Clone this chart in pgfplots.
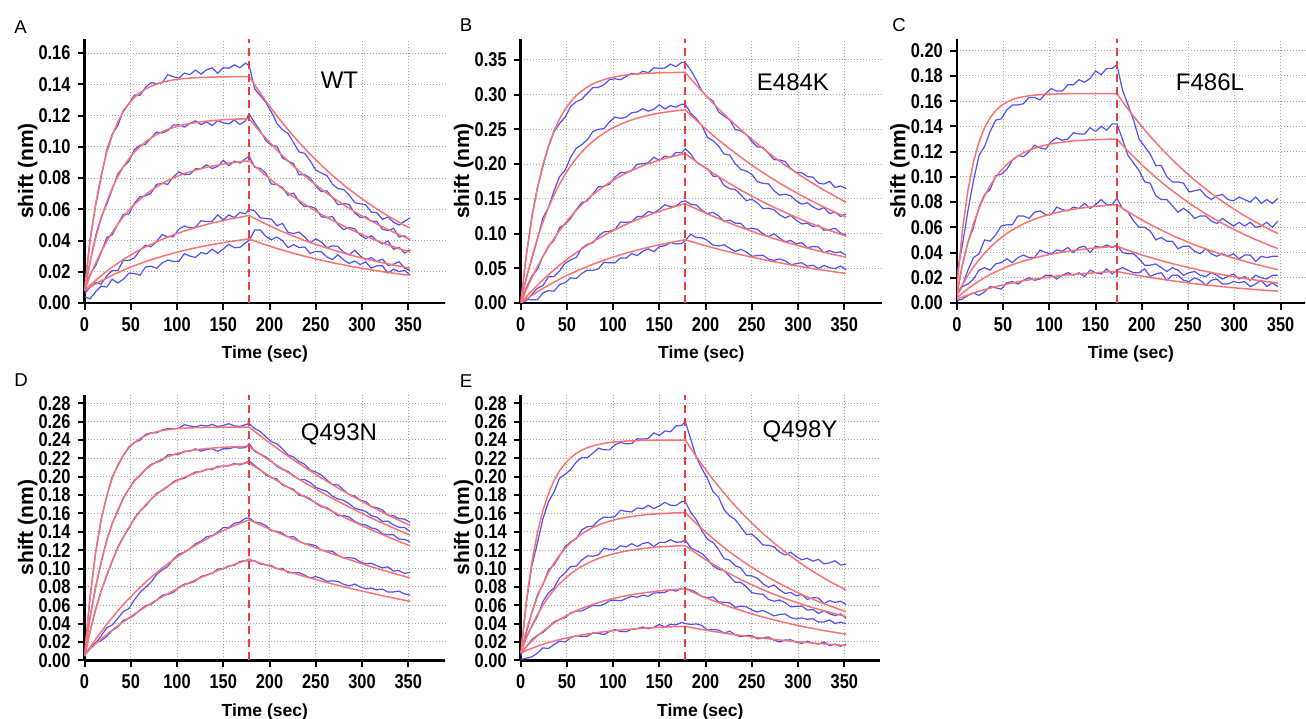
\documentclass[border=0pt]{standalone}
\usepackage{fontspec}
\setmainfont{Liberation Sans}
\newfontfamily\tickfont[FakeStretch=0.82]{Liberation Sans}
\usepackage{pgfplots}
\usepackage{pgfplotstable}
\pgfplotsset{compat=1.18}

\definecolor{bliblue}{RGB}{80,80,250}
\definecolor{blired}{RGB}{250,115,115}
\definecolor{bliline}{RGB}{240,60,60}
\definecolor{bligrid}{RGB}{165,165,165}

% columns: time, five fitted curves (r), five measured traces (b)
\pgfplotstableread{
t r1 r2 r3 r4 r5 b1 b2 b3 b4 b5
0 .0080 .0080 .0080 .0080 .0080 .009 .007 .010 .006 .004
6 .0392 .0262 .0173 .0114 .0102 .0408 .0262 .0181 .0100 .0026
12 .0632 .0414 .0255 .0145 .0122 .0624 .0430 .0239 .0131 .0072
18 .0818 .0541 .0329 .0175 .0142 .0802 .0549 .0321 .0121 .0108
24 .0962 .0647 .0394 .0203 .0160 .0978 .0631 .0418 .0173 .0102
30 .1073 .0736 .0453 .0230 .0178 .1081 .0728 .0437 .0208 .0152
36 .1159 .0810 .0505 .0254 .0194 .1135 .0826 .0505 .0208 .0128
42 .1225 .0872 .0552 .0278 .0210 .1233 .0872 .0568 .0272 .0152
48 .1276 .0923 .0594 .0300 .0225 .1276 .0907 .0570 .0272 .0191
54 .1316 .0966 .0631 .0321 .0239 .1332 .0982 .0639 .0290 .0189
60 .1346 .1002 .0664 .0340 .0252 .1330 .1010 .0680 .0338 .0178
66 .1370 .1032 .0694 .0359 .0265 .1381 .1016 .0686 .0370 .0231
72 .1388 .1057 .0720 .0376 .0277 .1411 .1057 .0704 .0360 .0235
78 .1402 .1078 .0744 .0392 .0288 .1404 .1094 .0760 .0395 .0222
84 .1413 .1096 .0765 .0408 .0299 .1410 .1088 .0765 .0438 .0257
90 .1421 .1111 .0784 .0422 .0309 .1462 .1103 .0760 .0423 .0275
96 .1428 .1123 .0800 .0436 .0319 .1448 .1139 .0808 .0424 .0266
102 .1433 .1133 .0815 .0449 .0328 .1440 .1141 .0839 .0472 .0267
108 .1437 .1142 .0829 .0461 .0337 .1472 .1126 .0821 .0493 .0316
114 .1440 .1149 .0840 .0472 .0345 .1462 .1149 .0824 .0481 .0300
120 .1442 .1155 .0851 .0483 .0353 .1491 .1166 .0859 .0485 .0292
126 .1444 .1160 .0860 .0493 .0360 .1465 .1142 .0860 .0527 .0323
132 .1445 .1164 .0869 .0503 .0367 .1493 .1159 .0885 .0521 .0314
138 .1446 .1167 .0876 .0512 .0374 .1505 .1136 .0860 .0523 .0345
144 .1447 .1170 .0883 .0520 .0380 .1470 .1168 .0875 .0564 .0319
150 .1448 .1173 .0889 .0528 .0386 .1506 .1153 .0913 .0532 .0346
156 .1448 .1175 .0895 .0536 .0392 .1503 .1147 .0879 .0564 .0376
162 .1449 .1176 .0899 .0543 .0397 .1525 .1172 .0907 .0547 .0354
168 .1449 .1178 .0904 .0549 .0402 .1506 .1142 .0896 .0580 .0356
174 .1449 .1179 .0907 .0556 .0407 .1535 .1167 .0923 .0571 .0385
178 .1450 .1180 .0910 .0560 .0410 .152 .121 .094 .060 .040
184 .1396 .1137 .0877 .0541 .0397 .1370 .1153 .0869 .0589 .0467
190 .1343 .1095 .0846 .0523 .0384 .1328 .1103 .0862 .0545 .0467
196 .1293 .1055 .0815 .0506 .0372 .1284 .1039 .0831 .0541 .0427
202 .1245 .1017 .0786 .0489 .0361 .1223 .1009 .0762 .0537 .0405
208 .1198 .0979 .0758 .0473 .0349 .1149 .1003 .0758 .0495 .0422
214 .1153 .0944 .0731 .0457 .0339 .1109 .0928 .0739 .0509 .0400
220 .1110 .0909 .0705 .0442 .0328 .1086 .0909 .0689 .0452 .0354
226 .1068 .0876 .0680 .0428 .0318 .1026 .0892 .0704 .0445 .0374
232 .1028 .0844 .0656 .0414 .0309 .0967 .0820 .0648 .0454 .0355
238 .0989 .0814 .0633 .0400 .0299 .0958 .0822 .0617 .0423 .0359
244 .0952 .0784 .0610 .0387 .0291 .0910 .0800 .0618 .0385 .0317
250 .0917 .0756 .0589 .0375 .0282 .0851 .0748 .0605 .0411 .0330
256 .0882 .0729 .0568 .0363 .0274 .0832 .0713 .0552 .0390 .0328
262 .0849 .0702 .0548 .0352 .0266 .0815 .0718 .0548 .0354 .0295
268 .0817 .0677 .0529 .0341 .0258 .0761 .0677 .0553 .0366 .0278
274 .0787 .0653 .0511 .0330 .0251 .0732 .0629 .0503 .0362 .0309
280 .0757 .0629 .0493 .0320 .0244 .0727 .0637 .0469 .0327 .0277
286 .0729 .0607 .0476 .0310 .0237 .0692 .0631 .0484 .0308 .0253
292 .0702 .0585 .0459 .0300 .0230 .0643 .0577 .0475 .0337 .0269
298 .0675 .0564 .0444 .0291 .0224 .0635 .0548 .0436 .0302 .0246
304 .0650 .0544 .0428 .0282 .0218 .0628 .0552 .0412 .0276 .0263
310 .0626 .0524 .0414 .0274 .0212 .0583 .0524 .0430 .0291 .0223
316 .0602 .0506 .0399 .0266 .0206 .0578 .0522 .0399 .0266 .0239
322 .0580 .0488 .0386 .0258 .0201 .0536 .0472 .0378 .0281 .0239
328 .0558 .0471 .0373 .0251 .0196 .0550 .0463 .0397 .0241 .0192
334 .0537 .0454 .0360 .0243 .0191 .0517 .0478 .0344 .0248 .0216
340 .0517 .0438 .0348 .0236 .0186 .0499 .0422 .0356 .0264 .0201
346 .0497 .0422 .0336 .0230 .0181 .0523 .0430 .0320 .0224 .0209
352 .0479 .0408 .0325 .0223 .0177 .0545 .0400 .0341 .0207 .0179
}\wt

\pgfplotstableread{
t r1 r2 r3 r4 r5 b1 b2 b3 b4 b5
0 0 0 0 0 0 .002 .001 .000 .001 .000
6 .0678 .0351 .0189 .0089 .0056 .0678 .0364 .0215 .0033 .0052
12 .1217 .0658 .0363 .0175 .0110 .1243 .0632 .0389 .0125 .0047
18 .1647 .0928 .0522 .0256 .0161 .1660 .0915 .0482 .0212 .0045
24 .1989 .1164 .0669 .0333 .0209 .1963 .1224 .0669 .0250 .0145
30 .2261 .1371 .0804 .0406 .0256 .2248 .1375 .0817 .0376 .0179
36 .2478 .1552 .0928 .0476 .0300 .2464 .1612 .0902 .0380 .0170
42 .2650 .1711 .1042 .0543 .0342 .2585 .1817 .1082 .0460 .0265
48 .2788 .1851 .1147 .0606 .0382 .2672 .1911 .1134 .0572 .0292
54 .2897 .1973 .1243 .0666 .0421 .2828 .2096 .1217 .0621 .0362
60 .2984 .2080 .1332 .0724 .0457 .2897 .2226 .1345 .0654 .0351
66 .3053 .2173 .1414 .0779 .0492 .2932 .2280 .1445 .0790 .0425
72 .3109 .2255 .1489 .0831 .0525 .3019 .2349 .1470 .0844 .0473
78 .3153 .2327 .1558 .0880 .0557 .3099 .2468 .1568 .0864 .0469
84 .3187 .2390 .1621 .0927 .0587 .3104 .2500 .1673 .0960 .0491
90 .3215 .2445 .1679 .0972 .0615 .3142 .2510 .1680 .1023 .0587
96 .3238 .2494 .1733 .1015 .0643 .3214 .2607 .1709 .1032 .0578
102 .3255 .2536 .1782 .1056 .0669 .3228 .2676 .1814 .1060 .0580
108 .3269 .2573 .1827 .1095 .0694 .3213 .2657 .1875 .1165 .0647
114 .3280 .2606 .1869 .1131 .0717 .3260 .2675 .1881 .1161 .0646
120 .3289 .2635 .1907 .1167 .0740 .3305 .2738 .1908 .1171 .0711
126 .3296 .2660 .1942 .1200 .0761 .3288 .2750 .1998 .1243 .0682
132 .3302 .2682 .1975 .1232 .0782 .3335 .2796 .2005 .1249 .0745
138 .3306 .2701 .2004 .1262 .0802 .3315 .2761 .2019 .1318 .0781
144 .3310 .2718 .2032 .1291 .0820 .3386 .2789 .2098 .1295 .0737
150 .3313 .2733 .2057 .1318 .0838 .3378 .2853 .2055 .1348 .0811
156 .3315 .2745 .2080 .1345 .0855 .3382 .2794 .2115 .1415 .0825
162 .3317 .2757 .2101 .1369 .0871 .3438 .2840 .2095 .1386 .0870
168 .3318 .2767 .2121 .1393 .0886 .3402 .2819 .2167 .1397 .0850
174 .3320 .2775 .2139 .1416 .0901 .3463 .2861 .2159 .1459 .0855
178 .3320 .2781 .2150 .1430 .0910 .346 .286 .222 .147 .090
184 .3226 .2703 .2091 .1391 .0886 .3352 .2730 .2144 .1421 .0990
190 .3136 .2628 .2033 .1354 .0862 .3209 .2654 .2027 .1410 .0942
196 .3047 .2555 .1977 .1318 .0839 .3051 .2551 .1977 .1335 .0940
202 .2961 .2484 .1922 .1282 .0817 .2958 .2384 .1933 .1286 .0900
208 .2878 .2415 .1869 .1248 .0795 .2908 .2335 .1826 .1304 .0834
214 .2797 .2348 .1818 .1214 .0774 .2751 .2261 .1818 .1257 .0821
220 .2718 .2284 .1768 .1182 .0754 .2688 .2143 .1692 .1172 .0838
226 .2642 .2220 .1719 .1150 .0734 .2638 .2130 .1646 .1193 .0789
232 .2567 .2159 .1672 .1119 .0715 .2497 .2006 .1635 .1149 .0741
238 .2495 .2099 .1626 .1090 .0696 .2478 .1923 .1559 .1146 .0772
244 .2425 .2041 .1582 .1061 .0678 .2426 .1899 .1472 .1065 .0736
250 .2357 .1985 .1538 .1032 .0660 .2324 .1851 .1494 .1075 .0674
256 .2290 .1930 .1496 .1005 .0643 .2246 .1746 .1439 .1061 .0681
262 .2226 .1877 .1455 .0978 .0626 .2240 .1722 .1361 .0995 .0688
268 .2163 .1825 .1415 .0953 .0610 .2155 .1715 .1363 .0957 .0631
274 .2102 .1775 .1377 .0927 .0594 .2062 .1617 .1343 .0997 .0613
280 .2043 .1726 .1339 .0903 .0579 .2060 .1551 .1270 .0933 .0635
286 .1985 .1679 .1303 .0879 .0564 .2035 .1567 .1225 .0883 .0607
292 .1930 .1632 .1267 .0856 .0549 .1937 .1543 .1260 .0899 .0553
298 .1875 .1588 .1233 .0834 .0535 .1879 .1470 .1193 .0851 .0565
304 .1822 .1544 .1199 .0812 .0522 .1875 .1423 .1138 .0868 .0580
310 .1771 .1502 .1166 .0791 .0508 .1821 .1443 .1149 .0795 .0529
316 .1721 .1460 .1135 .0770 .0495 .1812 .1385 .1102 .0813 .0544
322 .1673 .1420 .1104 .0750 .0483 .1727 .1342 .1120 .0806 .0497
328 .1625 .1382 .1074 .0731 .0471 .1712 .1372 .1048 .0721 .0542
334 .1580 .1344 .1045 .0712 .0459 .1750 .1288 .1055 .0755 .0509
340 .1535 .1307 .1017 .0693 .0447 .1664 .1305 .1077 .0723 .0494
346 .1492 .1271 .0989 .0676 .0436 .1685 .1245 .1006 .0737 .0532
352 .1450 .1237 .0963 .0658 .0425 .1647 .1283 .0977 .0685 .0479
}\eka

\pgfplotstableread{
t r1 r2 r3 r4 r5 b1 b2 b3 b4 b5
0 .0120 .0080 .0060 .0040 .0030 .022 .006 .007 .006 .002
6 .0573 .0300 .0144 .0078 .0048 .046 .030 .014 .013 .003
12 .0892 .0480 .0219 .0113 .0064 .073 .048 .026 .015 .006
18 .1118 .0628 .0285 .0145 .0079 .097 .060 .036 .019 .008
24 .1277 .0750 .0343 .0174 .0093 .117 .076 .039 .026 .006
30 .1390 .0849 .0395 .0201 .0106 .124 .086 .050 .028 .009
36 .1469 .0931 .0441 .0225 .0118 .136 .090 .049 .026 .013
42 .1525 .0998 .0482 .0247 .0130 .145 .101 .054 .031 .012
48 .1565 .1053 .0519 .0267 .0140 .146 .102 .061 .032 .011
54 .1593 .1098 .0551 .0286 .0150 .153 .106 .062 .035 .016
60 .1613 .1135 .0579 .0303 .0159 .157 .113 .062 .032 .017
66 .1626 .1165 .0605 .0318 .0168 .157 .117 .069 .036 .015
72 .1636 .1190 .0627 .0333 .0176 .158 .116 .069 .038 .018
78 .1643 .1211 .0647 .0345 .0183 .163 .120 .067 .036 .020
84 .1648 .1227 .0665 .0357 .0190 .163 .125 .072 .036 .018
90 .1652 .1241 .0680 .0368 .0196 .161 .123 .073 .042 .019
96 .1654 .1252 .0694 .0378 .0202 .166 .122 .070 .040 .022
102 .1656 .1262 .0706 .0387 .0208 .170 .128 .070 .039 .022
108 .1657 .1269 .0717 .0395 .0213 .168 .131 .076 .042 .019
114 .1658 .1275 .0727 .0403 .0218 .168 .129 .074 .041 .022
120 .1659 .1281 .0736 .0410 .0222 .173 .130 .073 .044 .024
126 .1659 .1285 .0743 .0416 .0226 .173 .135 .076 .040 .022
132 .1660 .1288 .0750 .0422 .0230 .177 .134 .075 .044 .024
138 .1660 .1291 .0756 .0427 .0234 .175 .134 .079 .045 .021
144 .1660 .1293 .0761 .0432 .0237 .178 .139 .075 .040 .026
150 .1660 .1295 .0766 .0436 .0240 .184 .136 .078 .045 .024
156 .1660 .1297 .0770 .0440 .0243 .181 .140 .082 .044 .023
162 .1660 .1298 .0774 .0444 .0246 .186 .137 .078 .046 .027
168 .1660 .1299 .0777 .0447 .0248 .186 .142 .078 .044 .023
173 .1660 .1300 .0780 .0450 .0250 .189 .142 .083 .046 .026
179 .1598 .1252 .0751 .0434 .0241 .169 .130 .075 .040 .028
185 .1538 .1205 .0724 .0418 .0233 .157 .117 .072 .039 .026
191 .1481 .1160 .0697 .0403 .0225 .145 .111 .065 .039 .024
197 .1426 .1117 .0671 .0388 .0217 .130 .105 .060 .035 .024
203 .1373 .1075 .0647 .0374 .0209 .124 .096 .060 .030 .027
209 .1321 .1035 .0623 .0361 .0202 .118 .095 .057 .030 .021
215 .1272 .0996 .0600 .0348 .0195 .109 .085 .050 .031 .023
221 .1225 .0959 .0578 .0335 .0189 .109 .082 .052 .028 .024
227 .1179 .0923 .0557 .0323 .0182 .100 .082 .049 .025 .018
233 .1135 .0889 .0536 .0312 .0176 .096 .077 .049 .028 .022
239 .1093 .0856 .0516 .0301 .0170 .096 .072 .043 .026 .022
245 .1052 .0824 .0498 .0290 .0164 .095 .075 .045 .022 .018
251 .1013 .0793 .0479 .0280 .0159 .088 .072 .045 .024 .017
257 .0975 .0763 .0462 .0270 .0153 .089 .067 .041 .025 .020
263 .0938 .0735 .0445 .0260 .0148 .090 .069 .039 .022 .018
269 .0903 .0707 .0429 .0251 .0143 .085 .069 .043 .021 .014
275 .0870 .0681 .0413 .0242 .0139 .082 .065 .039 .024 .018
281 .0837 .0656 .0398 .0233 .0134 .085 .063 .037 .022 .019
287 .0806 .0631 .0383 .0225 .0130 .086 .067 .039 .019 .015
293 .0776 .0608 .0369 .0217 .0125 .082 .064 .037 .021 .015
299 .0747 .0585 .0356 .0210 .0121 .081 .061 .039 .023 .017
305 .0719 .0563 .0343 .0202 .0117 .084 .064 .035 .019 .016
311 .0692 .0542 .0331 .0195 .0114 .082 .061 .038 .021 .017
317 .0666 .0522 .0319 .0188 .0110 .080 .064 .038 .018 .013
323 .0642 .0502 .0307 .0182 .0106 .084 .060 .033 .022 .015
329 .0618 .0484 .0296 .0176 .0103 .079 .061 .037 .020 .018
335 .0595 .0466 .0285 .0170 .0100 .082 .064 .036 .019 .013
341 .0573 .0448 .0275 .0164 .0097 .079 .060 .037 .022 .016
347 .0551 .0432 .0265 .0158 .0094 .083 .065 .037 .022 .013
}\fel

\pgfplotstableread{
t r1 r2 r3 r4 r5 b1 b2 b3 b4 b5
0 .0050 .0050 .0050 .0050 .0070 .004 .006 .003 .005 .006
6 .0695 .0461 .0315 .0141 .0126 .0683 .0473 .0315 .0127 .0138
12 .1173 .0797 .0547 .0228 .0179 .1173 .0791 .0559 .0186 .0191
18 .1528 .1074 .0751 .0311 .0231 .1540 .1062 .0757 .0265 .0213
24 .1790 .1300 .0929 .0391 .0280 .1784 .1312 .0917 .0354 .0260
30 .1984 .1486 .1086 .0466 .0328 .2002 .1492 .1080 .0384 .0324
36 .2128 .1639 .1223 .0538 .0375 .2116 .1621 .1235 .0458 .0363
42 .2235 .1764 .1343 .0607 .0419 .2229 .1770 .1343 .0529 .0437
48 .2314 .1867 .1448 .0672 .0462 .2326 .1867 .1436 .0564 .0456
54 .2373 .1951 .1540 .0734 .0504 .2373 .1963 .1552 .0660 .0492
60 .2416 .2020 .1621 .0793 .0544 .2398 .2008 .1627 .0740 .0550
66 .2448 .2077 .1692 .0850 .0583 .2460 .2083 .1680 .0794 .0595
72 .2472 .2123 .1754 .0904 .0620 .2478 .2135 .1754 .0852 .0608
78 .2490 .2162 .1808 .0955 .0656 .2478 .2156 .1820 .0937 .0656
84 .2503 .2193 .1855 .1004 .0691 .2509 .2181 .1849 .0984 .0709
90 .2512 .2219 .1897 .1051 .0724 .2524 .2237 .1891 .1023 .0718
96 .2520 .2240 .1934 .1095 .0757 .2524 .2240 .1946 .1101 .0739
102 .2525 .2257 .1966 .1138 .0788 .2528 .2245 .1972 .1156 .0794
108 .2529 .2271 .1994 .1178 .0818 .2567 .2277 .1982 .1177 .0830
114 .2532 .2283 .2019 .1217 .0847 .2552 .2277 .2019 .1215 .0841
120 .2534 .2292 .2040 .1253 .0875 .2542 .2304 .2052 .1269 .0863
126 .2535 .2300 .2059 .1288 .0902 .2561 .2278 .2053 .1298 .0914
132 .2537 .2307 .2076 .1322 .0928 .2551 .2298 .2082 .1347 .0928
138 .2537 .2312 .2090 .1354 .0953 .2569 .2304 .2078 .1357 .0947
144 .2538 .2316 .2103 .1384 .0977 .2546 .2278 .2115 .1393 .0995
150 .2539 .2320 .2114 .1413 .1000 .2559 .2306 .2114 .1446 .0998
156 .2539 .2323 .2124 .1440 .1023 .2577 .2303 .2118 .1445 .1029
162 .2540 .2325 .2132 .1466 .1045 .2554 .2322 .2144 .1492 .1033
168 .2540 .2327 .2140 .1491 .1066 .2548 .2311 .2128 .1505 .1078
174 .2540 .2329 .2146 .1515 .1086 .2566 .2317 .2152 .1547 .1086
178 .2540 .2330 .2150 .1530 .1100 .258 .236 .217 .155 .108
184 .2493 .2287 .2110 .1502 .1080 .2523 .2275 .2122 .1506 .1086
190 .2446 .2245 .2071 .1474 .1060 .2493 .2245 .2077 .1496 .1048
196 .2400 .2204 .2032 .1447 .1040 .2434 .2216 .2020 .1469 .1040
202 .2355 .2163 .1994 .1421 .1021 .2383 .2169 .1988 .1413 .1033
208 .2311 .2123 .1957 .1395 .1002 .2358 .2111 .1975 .1405 .0996
214 .2268 .2085 .1921 .1369 .0984 .2304 .2079 .1909 .1385 .1002
220 .2225 .2046 .1885 .1344 .0966 .2237 .2058 .1885 .1342 .0954
226 .2184 .2009 .1850 .1320 .0948 .2215 .2009 .1862 .1348 .0952
232 .2143 .1972 .1815 .1295 .0930 .2163 .1970 .1797 .1299 .0954
238 .2103 .1936 .1781 .1272 .0913 .2135 .1968 .1787 .1270 .0928
244 .2063 .1900 .1748 .1248 .0896 .2071 .1936 .1760 .1264 .0896
250 .2025 .1865 .1716 .1226 .0880 .2051 .1883 .1710 .1248 .0912
256 .1987 .1831 .1684 .1203 .0864 .2019 .1861 .1672 .1201 .0892
262 .1950 .1798 .1653 .1181 .0848 .1964 .1840 .1665 .1191 .0861
268 .1913 .1765 .1622 .1160 .0832 .1916 .1789 .1622 .1188 .0866
274 .1877 .1733 .1592 .1139 .0817 .1910 .1757 .1574 .1143 .0859
280 .1842 .1701 .1562 .1118 .0802 .1857 .1743 .1578 .1115 .0829
286 .1808 .1670 .1533 .1098 .0787 .1806 .1706 .1561 .1119 .0811
292 .1774 .1639 .1505 .1078 .0773 .1790 .1657 .1514 .1110 .0831
298 .1741 .1609 .1477 .1058 .0759 .1745 .1639 .1485 .1072 .0799
304 .1708 .1580 .1449 .1039 .0745 .1730 .1622 .1475 .1052 .0778
310 .1676 .1551 .1422 .1020 .0731 .1674 .1575 .1442 .1057 .0787
316 .1645 .1523 .1396 .1001 .0718 .1663 .1559 .1428 .1031 .0767
322 .1614 .1495 .1370 .0983 .0704 .1638 .1513 .1378 .1007 .0776
328 .1584 .1468 .1344 .0965 .0692 .1581 .1515 .1368 .1018 .0743
334 .1554 .1441 .1319 .0948 .0679 .1575 .1476 .1367 .0971 .0745
340 .1525 .1415 .1295 .0931 .0666 .1545 .1449 .1318 .0977 .0754
346 .1496 .1389 .1271 .0914 .0654 .1538 .1446 .1317 .0947 .0723
352 .1468 .1364 .1247 .0897 .0642 .1502 .1402 .1291 .0959 .0710
}\qna

\pgfplotstableread{
t r1 r2 r3 r4 r5 b1 b2 b3 b4 b5
0 .0080 .0080 .0080 .0080 .0080 .005 .008 .007 .006 .001
6 .0640 .0318 .0239 .0148 .0107 .0620 .0298 .0259 .0148 .0024
12 .1064 .0519 .0377 .0210 .0131 .1024 .0519 .0367 .0224 .0037
18 .1386 .0690 .0496 .0266 .0154 .1276 .0710 .0476 .0273 .0077
24 .1631 .0833 .0600 .0317 .0174 .1541 .0823 .0640 .0303 .0135
30 .1816 .0955 .0689 .0363 .0193 .1726 .0985 .0734 .0356 .0129
36 .1957 .1058 .0767 .0405 .0210 .1832 .1038 .0787 .0419 .0170
42 .2064 .1145 .0834 .0444 .0226 .1984 .1135 .0899 .0444 .0210
48 .2145 .1218 .0892 .0478 .0240 .2025 .1238 .0952 .0464 .0199
54 .2207 .1280 .0942 .0510 .0253 .2077 .1290 .1022 .0519 .0245
60 .2253 .1333 .0986 .0539 .0265 .2158 .1323 .1026 .0536 .0269
66 .2289 .1377 .1023 .0565 .0276 .2209 .1422 .1093 .0536 .0259
72 .2316 .1415 .1056 .0588 .0286 .2206 .1455 .1136 .0568 .0262
78 .2336 .1446 .1084 .0610 .0295 .2256 .1461 .1134 .0599 .0299
84 .2351 .1473 .1109 .0629 .0303 .2311 .1523 .1149 .0592 .0293
90 .2363 .1496 .1130 .0647 .0311 .2293 .1561 .1220 .0610 .0280
96 .2372 .1515 .1148 .0663 .0318 .2292 .1555 .1208 .0647 .0315
102 .2379 .1531 .1164 .0678 .0324 .2349 .1566 .1204 .0655 .0335
108 .2384 .1545 .1178 .0691 .0330 .2374 .1635 .1248 .0647 .0313
114 .2388 .1557 .1190 .0703 .0336 .2358 .1622 .1235 .0673 .0312
120 .2391 .1566 .1200 .0714 .0340 .2361 .1616 .1270 .0698 .0337
126 .2393 .1575 .1209 .0724 .0345 .2413 .1660 .1239 .0687 .0345
132 .2395 .1582 .1217 .0733 .0349 .2410 .1652 .1272 .0710 .0363
138 .2396 .1588 .1224 .0741 .0353 .2416 .1688 .1284 .0697 .0344
144 .2397 .1593 .1229 .0749 .0356 .2477 .1653 .1239 .0733 .0359
150 .2398 .1597 .1235 .0756 .0359 .2448 .1682 .1285 .0736 .0390
156 .2398 .1600 .1239 .0762 .0362 .2498 .1720 .1284 .0740 .0363
162 .2399 .1604 .1243 .0767 .0365 .2489 .1689 .1313 .0771 .0392
168 .2399 .1606 .1246 .0772 .0367 .2554 .1686 .1286 .0753 .0385
174 .2399 .1608 .1249 .0777 .0369 .2559 .1728 .1289 .0784 .0413
178 .2400 .1610 .1250 .0780 .0370 .260 .173 .131 .078 .040
184 .2307 .1549 .1206 .0752 .0358 .2405 .1610 .1226 .0766 .0391
190 .2218 .1490 .1164 .0725 .0347 .2211 .1530 .1194 .0737 .0396
196 .2132 .1433 .1123 .0699 .0336 .2087 .1410 .1163 .0695 .0380
202 .2050 .1379 .1084 .0674 .0325 .1979 .1318 .1104 .0682 .0329
208 .1971 .1326 .1047 .0650 .0315 .1837 .1284 .1027 .0691 .0335
214 .1895 .1276 .1011 .0627 .0306 .1777 .1207 .0991 .0636 .0330
220 .1821 .1228 .0976 .0605 .0296 .1640 .1106 .0976 .0632 .0295
226 .1751 .1181 .0943 .0583 .0287 .1572 .1091 .0913 .0627 .0318
232 .1683 .1137 .0911 .0563 .0279 .1534 .1031 .0851 .0577 .0277
238 .1618 .1094 .0880 .0543 .0271 .1454 .1006 .0850 .0590 .0257
244 .1556 .1052 .0851 .0524 .0263 .1371 .0925 .0801 .0583 .0270
250 .1495 .1013 .0822 .0506 .0255 .1374 .0918 .0737 .0549 .0269
256 .1438 .0974 .0795 .0488 .0248 .1322 .0894 .0725 .0527 .0234
262 .1382 .0938 .0769 .0472 .0241 .1256 .0834 .0719 .0543 .0241
268 .1329 .0902 .0743 .0455 .0234 .1253 .0796 .0663 .0515 .0255
274 .1277 .0869 .0719 .0440 .0227 .1235 .0821 .0644 .0483 .0220
280 .1228 .0836 .0696 .0425 .0221 .1179 .0768 .0656 .0500 .0200
286 .1181 .0805 .0673 .0411 .0215 .1147 .0728 .0628 .0504 .0222
292 .1135 .0775 .0652 .0397 .0209 .1178 .0739 .0582 .0466 .0223
298 .1091 .0746 .0631 .0383 .0204 .1130 .0703 .0586 .0449 .0197
304 .1049 .0718 .0611 .0371 .0198 .1095 .0717 .0591 .0462 .0184
310 .1008 .0691 .0592 .0358 .0193 .1112 .0663 .0547 .0446 .0207
316 .0969 .0665 .0573 .0347 .0188 .1080 .0681 .0553 .0453 .0188
322 .0932 .0640 .0556 .0335 .0183 .1099 .0680 .0511 .0417 .0176
328 .0896 .0617 .0539 .0324 .0179 .1050 .0619 .0539 .0417 .0200
334 .0861 .0594 .0522 .0314 .0174 .1062 .0650 .0507 .0440 .0160
340 .0828 .0572 .0507 .0304 .0170 .1084 .0631 .0487 .0400 .0177
346 .0796 .0551 .0491 .0294 .0166 .1038 .0644 .0506 .0416 .0152
352 .0765 .0530 .0477 .0285 .0162 .1046 .0607 .0457 .0398 .0176
}\qny

\pgfplotsset{
  bli/.style={
    scale only axis,
    axis lines=left,
    axis line style={line width=1.25pt, -},
    xmin=0, ymin=0,
    xtick={0,50,100,150,200,250,300,350},
    tick align=outside,
    major tick length=3.5pt,
    tick style={line width=1pt, black},
    grid=major,
    grid style={bligrid, line width=0.5pt, dash pattern=on 0.5pt off 1pt},
    ticklabel style={font=\tickfont\bfseries\fontsize{10}{12}\selectfont},
    /pgf/number format/assume math mode=true,
    yticklabel style={/pgf/number format/fixed, /pgf/number format/fixed zerofill, /pgf/number format/precision=2},
    xlabel={Time (sec)},
    ylabel={shift (nm)},
    every axis x label/.style={at={(rel axis cs:0.5,0)}, yshift=-25.6pt, anchor=center,
      font=\bfseries\fontsize{8.75}{10}\selectfont},
    every axis y label/.style={at={(rel axis cs:0,0.5)}, xshift=-28.45pt, rotate=90, anchor=center,
      font=\bfseries\fontsize{10.5}{12}\selectfont},
  },
  trace/.style={color=bliblue, line width=0.6pt},
  fitline/.style={color=blired, line width=0.75pt},
  stopline/.style={color=bliline, line width=1pt, dash pattern=on 4pt off 2.5pt},
}

\newcommand\panel[1]{%
  \addplot[trace] table[x=t,y=b1]{#1};
  \addplot[trace] table[x=t,y=b2]{#1};
  \addplot[trace] table[x=t,y=b3]{#1};
  \addplot[trace] table[x=t,y=b4]{#1};
  \addplot[trace] table[x=t,y=b5]{#1};
  \addplot[fitline] table[x=t,y=r1]{#1};
  \addplot[fitline] table[x=t,y=r2]{#1};
  \addplot[fitline] table[x=t,y=r3]{#1};
  \addplot[fitline] table[x=t,y=r4]{#1};
  \addplot[fitline] table[x=t,y=r5]{#1};
}

\begin{document}
\begin{tikzpicture}
\path[use as bounding box] (0,0) rectangle (653pt,359pt);

% A  WT
\begin{axis}[bli, at={(42.25pt,207.5pt)}, anchor=south west,
  width=180.25pt, height=132pt, xmax=389.7, ymax=0.169,
  ytick={0,0.02,0.04,0.06,0.08,0.10,0.12,0.14,0.16}]
\panel{\wt}
\addplot[stopline] coordinates {(178,0) (178,0.169)};
\node[font=\fontsize{12}{14}\selectfont] at (axis cs:275.6,0.1423) {WT};
\end{axis}

% B  E484K
\begin{axis}[bli, at={(260.35pt,207.5pt)}, anchor=south west,
  width=180.65pt, height=132pt, xmax=390.8, ymax=0.380,
  ytick={0,0.05,0.10,0.15,0.20,0.25,0.30,0.35}]
\panel{\eka}
\addplot[stopline] coordinates {(178,0) (178,0.380)};
\node[font=\fontsize{12}{14}\selectfont] at (axis cs:294.5,0.3183) {E484K};
\end{axis}

% C  F486L
\begin{axis}[bli, at={(478.4pt,207.5pt)}, anchor=south west,
  width=174.1pt, height=132pt, xmax=376.3, ymax=0.2093,
  ytick={0,0.02,0.04,0.06,0.08,0.10,0.12,0.14,0.16,0.18,0.20}]
\panel{\fel}
\addplot[stopline] coordinates {(173,0) (173,0.2093)};
\node[font=\fontsize{12}{14}\selectfont] at (axis cs:273.6,0.1752) {F486L};
\end{axis}

% D  Q493N
\begin{axis}[bli, at={(42.25pt,28.85pt)}, anchor=south west,
  width=180.25pt, height=132.65pt, xmax=389.7, ymax=0.289,
  ytick={0,0.02,0.04,0.06,0.08,0.10,0.12,0.14,0.16,0.18,0.20,0.22,0.24,0.26,0.28}]
\panel{\qna}
\addplot[stopline] coordinates {(178,0) (178,0.289)};
\node[font=\fontsize{12}{14}\selectfont] at (axis cs:275.1,0.2465) {Q493N};
\end{axis}

% E  Q498Y
\begin{axis}[bli, at={(260.35pt,28.85pt)}, anchor=south west,
  width=179.65pt, height=132.65pt, xmax=388.6, ymax=0.289,
  ytick={0,0.02,0.04,0.06,0.08,0.10,0.12,0.14,0.16,0.18,0.20,0.22,0.24,0.26,0.28}]
\panel{\qny}
\addplot[stopline] coordinates {(178,0) (178,0.289)};
\node[font=\fontsize{12}{14}\selectfont] at (axis cs:302.1,0.2498) {Q498Y};
\end{axis}

\begin{scope}[every node/.style={font=\fontsize{9.3}{11}\selectfont}]
\node at (10.25pt,345.65pt) {A};
\node at (233pt,346.5pt) {B};
\node at (449.5pt,346.5pt) {C};
\node at (10.5pt,169pt) {D};
\node at (233pt,168.5pt) {E};
\end{scope}
\end{tikzpicture}
\end{document}
